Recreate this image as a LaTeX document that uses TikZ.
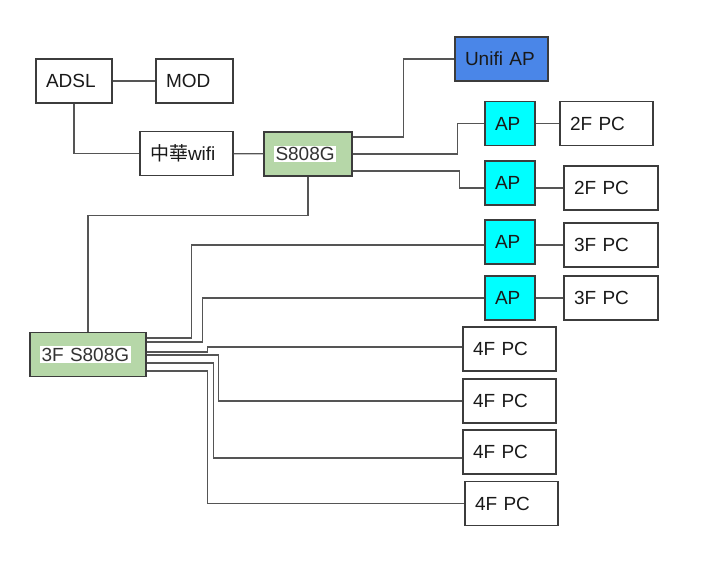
\documentclass[tikz,border=0pt]{standalone}
\usepackage{fontspec}
\setmainfont{Liberation Sans}
\newfontfamily\cjk{Noto Sans CJK TC}
\usepackage{tikz}
\usetikzlibrary{positioning}

\definecolor{linec}{HTML}{555555}
\definecolor{edgec}{HTML}{3C3C3C}
\definecolor{swgreen}{HTML}{B6D7A8}
\definecolor{unifiblue}{HTML}{4A86E8}
\definecolor{apcyan}{HTML}{00FFFF}

\tikzset{
  box/.style={draw=edgec, line width=1.3pt, minimum height=44pt, inner xsep=10pt,
    align=left, text width=#1, font=\fontsize{19}{22}\selectfont, text=black!90},
  switch/.style={box=#1, fill=swgreen},
  ap/.style={box=30pt, fill=apcyan},
  wire/.style={draw=linec, line width=1.3pt}
}
\newcommand{\hlt}[1]{{\setlength\fboxsep{1.5pt}\colorbox{white}{\textcolor{black!80}{#1}}}}

\begin{document}
\begin{tikzpicture}[x=1pt,y=-1pt]
	\useasboundingbox[fill=white] (0,0) rectangle (720,566);
	% top floor
	\node[box=56pt] (adsl) at (74,81) {ADSL};
	\node[box=57pt] (mod) at (194.5,81) {MOD};
	\node[box=73pt] (wifi) at (186.5,153.5) {{\cjk 中華}wifi};
	\node[switch=68pt] (sw) at (308,154) {\hlt{S808G}};
	\node[box=73pt, fill=unifiblue] (unifi) at (501.5,59) {Unifi AP};
	% access points and 2F/3F pcs
	\node[ap] (ap1) at (510,123.5) {AP};
	\node[box=73pt] (pc2a) at (606.5,123.5) {2F PC};
	\node[ap] (ap2) at (510,183) {AP};
	\node[box=74pt] (pc2b) at (611,188) {2F PC};
	\node[ap] (ap3) at (510,242) {AP};
	\node[box=74pt] (pc3a) at (611,245) {3F PC};
	\node[ap] (ap4) at (510,298) {AP};
	\node[box=74pt] (pc3b) at (611,298) {3F PC};
	% 3F switch and 4F pcs
	\node[switch=96pt] (sw3) at (88,354.5) {\hlt{3F S808G}};
	\node[box=73pt] (pc4a) at (509.5,349) {4F PC};
	\node[box=73pt] (pc4b) at (509.5,401) {4F PC};
	\node[box=73pt] (pc4c) at (509.5,452) {4F PC};
	\node[box=73pt] (pc4d) at (511.5,503.5) {4F PC};

	\draw[wire] (adsl) -- (mod);
	\draw[wire] (adsl) |- (wifi);
	\draw[wire] (wifi) -- (sw);
	\draw[wire] ([yshift=17pt]sw.east) -- ++(51,0) |- (unifi);
	\draw[wire] (sw.east) -- ++(105,0) |- (ap1);
	\draw[wire] ([yshift=-17pt]sw.east) -- ++(107,0) |- ([yshift=-5pt]ap2.west);
	\draw[wire] (sw.south) -- ++(0,39) -| (sw3);
	\draw[wire] (ap1) -- (pc2a);
	\draw[wire] ([yshift=-5pt]ap2.east) -- (pc2b);
	\draw[wire] ([yshift=-3pt]ap3.east) -- (pc3a);
	\draw[wire] (ap4) -- (pc3b);
	% links out of the 3F switch
	\draw[wire] ([yshift=16.5pt]sw3.east) -- ++(45,0) |- ([yshift=-3pt]ap3.west);
	\draw[wire] ([yshift=12.5pt]sw3.east) -- ++(56,0) |- (ap4);
	\draw[wire] ([yshift=2.5pt]sw3.east) -- ++(61,0) |- ([yshift=2pt]pc4a.west);
	\draw[wire] ([yshift=-0.5pt]sw3.east) -- ++(72,0) |- (pc4b);
	\draw[wire] ([yshift=-8.5pt]sw3.east) -- ++(67,0) |- ([yshift=-6pt]pc4c.west);
	\draw[wire] ([yshift=-16.5pt]sw3.east) -- ++(61,0) |- (pc4d);
\end{tikzpicture}
\end{document}
